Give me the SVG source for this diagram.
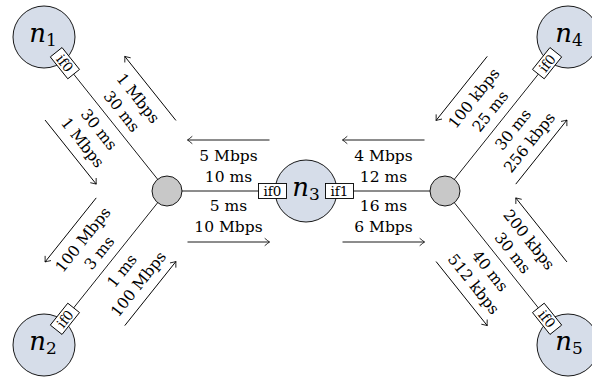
<svg xmlns="http://www.w3.org/2000/svg" width="592" height="378" viewBox="0 0 592 378">
<defs>
<marker id="to" viewBox="-6 -5 8 10" refX="0" refY="0" markerWidth="8" markerHeight="10" markerUnits="userSpaceOnUse" orient="auto">
<path d="M -4.5 -3.5 Q -1.2 -0.8 0 0 Q -1.2 0.8 -4.5 3.5" fill="none" stroke="#000" stroke-width="0.8" stroke-linecap="round"/>
</marker>
</defs>
<style>
.lk{stroke:#000;stroke-width:0.9;fill:none}
.ar{stroke:#000;stroke-width:0.9;fill:none;marker-end:url(#to)}
.lb{font-family:'DejaVu Serif','Liberation Serif',serif;font-size:15.5px;text-anchor:middle;fill:#000}
.host{fill:#d6dde9;stroke:#000;stroke-width:0.9}
.rt{fill:#c8c8c8;stroke:#000;stroke-width:0.9}
.box{fill:#fff;stroke:#000;stroke-width:0.9}
.bt{font-family:'DejaVu Serif','Liberation Serif',serif;font-size:13.5px;text-anchor:middle;fill:#000}
.nm{font-family:'DejaVu Serif','Liberation Serif',serif;fill:#000;text-anchor:middle}
</style>
<g id="connectors">
<line class="lk" x1="44" y1="37" x2="167" y2="191"/>
<line class="lk" x1="44" y1="345" x2="167" y2="191"/>
<line class="lk" x1="167" y1="191" x2="306" y2="191"/>
<line class="lk" x1="306" y1="191" x2="445" y2="191"/>
<line class="lk" x1="445" y1="191" x2="568" y2="37"/>
<line class="lk" x1="445" y1="191" x2="568" y2="345"/>
</g>
<g id="link-labels">
<g id="l1" transform="translate(110.49,120.25) rotate(51.39)">
<line class="ar" x1="41" y1="-51" x2="-41" y2="-51"/>
<text class="lb" x="0" y="-30">1 Mbps</text>
<text class="lb" x="0" y="-9">30 ms</text>
<text class="lb" x="0" y="20">30 ms</text>
<text class="lb" x="0" y="41">1 Mbps</text>
<line class="ar" x1="-41" y1="51" x2="41" y2="51"/>
</g>
<g id="l2" transform="translate(110.49,261.75) rotate(-51.39)">
<line class="ar" x1="41" y1="-51" x2="-41" y2="-51"/>
<text class="lb" x="0" y="-30">100 Mbps</text>
<text class="lb" x="0" y="-9">3 ms</text>
<text class="lb" x="0" y="20">1 ms</text>
<text class="lb" x="0" y="41">100 Mbps</text>
<line class="ar" x1="-41" y1="51" x2="41" y2="51"/>
</g>
<g id="l3" transform="translate(228.5,191)">
<line class="ar" x1="41" y1="-51" x2="-41" y2="-51"/>
<text class="lb" x="0" y="-30">5 Mbps</text>
<text class="lb" x="0" y="-9">10 ms</text>
<text class="lb" x="0" y="20">5 ms</text>
<text class="lb" x="0" y="41">10 Mbps</text>
<line class="ar" x1="-41" y1="51" x2="41" y2="51"/>
</g>
<g id="l4" transform="translate(383.5,191)">
<line class="ar" x1="41" y1="-51" x2="-41" y2="-51"/>
<text class="lb" x="0" y="-30">4 Mbps</text>
<text class="lb" x="0" y="-9">12 ms</text>
<text class="lb" x="0" y="20">16 ms</text>
<text class="lb" x="0" y="41">6 Mbps</text>
<line class="ar" x1="-41" y1="51" x2="41" y2="51"/>
</g>
<g id="l5" transform="translate(501.51,120.25) rotate(-51.39)">
<line class="ar" x1="41" y1="-51" x2="-41" y2="-51"/>
<text class="lb" x="0" y="-30">100 kbps</text>
<text class="lb" x="0" y="-9">25 ms</text>
<text class="lb" x="0" y="20">30 ms</text>
<text class="lb" x="0" y="41">256 kbps</text>
<line class="ar" x1="-41" y1="51" x2="41" y2="51"/>
</g>
<g id="l6" transform="translate(501.51,261.75) rotate(51.39)">
<line class="ar" x1="41" y1="-51" x2="-41" y2="-51"/>
<text class="lb" x="0" y="-30">200 kbps</text>
<text class="lb" x="0" y="-9">30 ms</text>
<text class="lb" x="0" y="20">40 ms</text>
<text class="lb" x="0" y="41">512 kbps</text>
<line class="ar" x1="-41" y1="51" x2="41" y2="51"/>
</g>
</g>
<g id="r1"><circle class="rt" cx="167" cy="191" r="15"/></g>
<g id="r2"><circle class="rt" cx="445" cy="191" r="15"/></g>
<g id="n1">
<circle class="host" cx="44" cy="37" r="31"/>
<text class="nm" x="43" y="42"><tspan font-style="italic" font-size="26">n</tspan><tspan font-size="17" dy="4">1</tspan></text>
<g transform="translate(64.91,63.18) rotate(51.39)"><rect class="box" x="-14" y="-7.5" width="28" height="15"/><text class="bt" x="0" y="5">if0</text></g>
</g>
<g id="n2">
<circle class="host" cx="44" cy="345" r="31"/>
<text class="nm" x="43" y="350"><tspan font-style="italic" font-size="26">n</tspan><tspan font-size="17" dy="4">2</tspan></text>
<g transform="translate(64.91,318.82) rotate(-51.39)"><rect class="box" x="-14" y="-7.5" width="28" height="15"/><text class="bt" x="0" y="5">if0</text></g>
</g>
<g id="n3">
<circle class="host" cx="306" cy="191" r="31"/>
<text class="nm" x="306" y="196"><tspan font-style="italic" font-size="26">n</tspan><tspan font-size="17" dy="4">3</tspan></text>
<g transform="translate(272.5,191)"><rect class="box" x="-14" y="-7.5" width="28" height="15"/><text class="bt" x="0" y="5">if0</text></g>
<g transform="translate(339.5,191)"><rect class="box" x="-14" y="-7.5" width="28" height="15"/><text class="bt" x="0" y="5">if1</text></g>
</g>
<g id="n4">
<circle class="host" cx="568" cy="37" r="31"/>
<text class="nm" x="569" y="42"><tspan font-style="italic" font-size="26">n</tspan><tspan font-size="17" dy="4">4</tspan></text>
<g transform="translate(547.09,63.18) rotate(-51.39)"><rect class="box" x="-14" y="-7.5" width="28" height="15"/><text class="bt" x="0" y="5">if0</text></g>
</g>
<g id="n5">
<circle class="host" cx="568" cy="345" r="31"/>
<text class="nm" x="569" y="350"><tspan font-style="italic" font-size="26">n</tspan><tspan font-size="17" dy="4">5</tspan></text>
<g transform="translate(547.09,318.82) rotate(51.39)"><rect class="box" x="-14" y="-7.5" width="28" height="15"/><text class="bt" x="0" y="5">if0</text></g>
</g>
</svg>
